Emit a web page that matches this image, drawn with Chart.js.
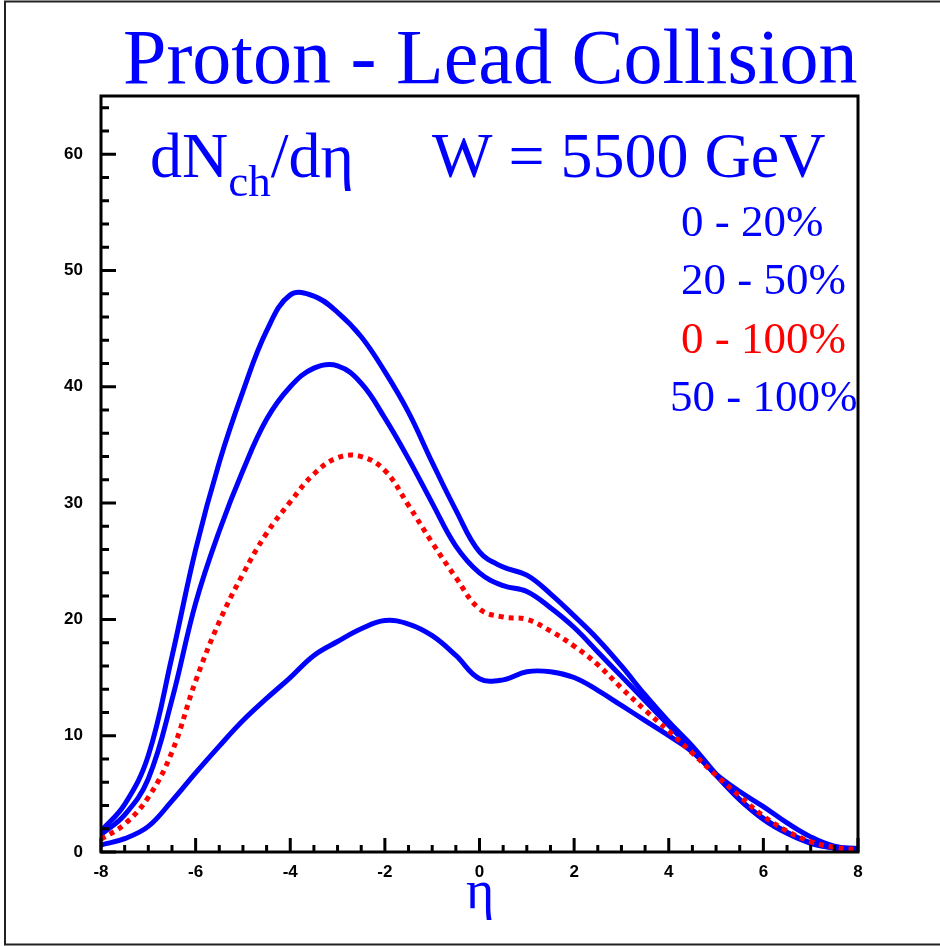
<!DOCTYPE html>
<html>
<head>
<meta charset="utf-8">
<script src="https://cdn.jsdelivr.net/npm/chart.js@4.4.1/dist/chart.umd.min.js"></script>
<style>
  html, body { margin: 0; padding: 0; background: #fff; }
  #wrap { width: 940px; height: 946px; }
</style>
</head>
<body>
<div id="wrap"><canvas id="etaChart" width="940" height="946"></canvas></div>
<script>
// pseudorapidity grid
const eta = [-8, -7.5, -7, -6.5, -6, -5.5, -5, -4.5, -4, -3.5, -3, -2.5, -2, -1.5, -1, -0.5,
  0, 0.5, 1, 1.5, 2, 2.5, 3, 3.5, 4, 4.5, 5, 5.5, 6, 6.5, 7, 7.5, 8];

// dN_ch/deta per centrality class
const cent0to20 = [1.8, 4.1, 8.3, 16.8, 26.0, 33.5, 39.6, 44.8, 47.9, 47.8, 46.4, 44.3, 41.3, 37.8, 33.5, 29.4,
  25.8, 24.5, 23.8, 22.2, 20.3, 18.3, 16.0, 13.5, 11.2, 9.1, 6.7, 4.5, 2.9, 1.7, 0.8, 0.35, 0.25];
const cent20to50 = [1.5, 3.2, 6.3, 13.1, 21.4, 27.6, 32.8, 37.2, 40.0, 41.6, 41.8, 40.3, 37.3, 33.8, 30.0, 26.3,
  24.0, 22.9, 22.4, 21.0, 19.3, 17.2, 15.1, 13.0, 10.9, 8.8, 6.6, 4.5, 2.8, 1.6, 0.75, 0.35, 0.25];
const cent0to100 = [1.1, 2.4, 4.7, 8.6, 14.7, 19.8, 23.9, 27.4, 30.1, 32.5, 33.9, 34.0, 32.8, 29.8, 26.6, 23.6,
  20.9, 20.2, 20.0, 19.0, 17.7, 16.1, 14.1, 12.2, 10.4, 8.5, 6.6, 4.8, 3.1, 1.8, 0.9, 0.4, 0.2];
const cent50to100 = [0.6, 1.15, 2.2, 4.4, 6.8, 9.1, 11.3, 13.2, 15.0, 16.9, 18.1, 19.2, 19.9, 19.6, 18.6, 16.9,
  14.9, 14.8, 15.5, 15.5, 15.0, 13.9, 12.6, 11.3, 10.0, 8.6, 6.7, 5.2, 3.9, 2.5, 1.3, 0.5, 0.3];

const legendLabels = ["0 - 20%", "20 - 50%", "0 - 100%", "50 - 100%"];
const xTickStep = 2, yTickStep = 10;

const BLUE = "#0000ff", RED = "#ff0000";
const serif = '"Liberation Serif", "Times New Roman", serif';

function pts(ys) {
  return eta.map((x, i) => ({ x: x, y: ys[i] }));
}

// inward ticks, plot frame and the text that sits in the picture
const decorPlugin = {
  id: "decor",
  afterDraw(chart) {
    const ctx = chart.ctx;
    const a = chart.chartArea;
    const xs = chart.scales.x, ys = chart.scales.y;
    ctx.save();

    // outer border of the picture
    ctx.strokeStyle = "#222";
    ctx.lineWidth = 2;
    ctx.beginPath();
    ctx.moveTo(960, 1.5); ctx.lineTo(5, 1.5); ctx.lineTo(5, 944.5); ctx.lineTo(960, 944.5);
    ctx.stroke();

    // ticks
    ctx.strokeStyle = "#000";
    ctx.lineWidth = 3;
    ctx.beginPath();
    for (let v = xs.min; v <= xs.max + 1e-9; v += 0.5) {
      const px = xs.getPixelForValue(v);
      const len = Math.abs(v % xTickStep) < 1e-9 ? 14 : 7;
      ctx.moveTo(px, a.bottom);
      ctx.lineTo(px, a.bottom - len);
    }
    for (let v = ys.min; v <= ys.max + 1e-9; v += 2) {
      const py = ys.getPixelForValue(v);
      const len = Math.abs(v % yTickStep) < 1e-9 ? 15 : 8;
      ctx.moveTo(a.left, py);
      ctx.lineTo(a.left + len, py);
    }
    ctx.stroke();
    ctx.strokeRect(a.left, a.top, a.right - a.left, a.bottom - a.top);

    // title
    ctx.fillStyle = BLUE;
    ctx.textAlign = "left";
    ctx.textBaseline = "alphabetic";
    ctx.font = "78px " + serif;
    ctx.fillText("Proton - Lead Collision", 123, 83);

    // dN_ch/deta and energy
    ctx.font = "64px " + serif;
    let x = 150;
    ctx.fillText("dN", x, 177);
    x += ctx.measureText("dN").width;
    ctx.font = "45px " + serif;
    ctx.fillText("ch", x, 196);
    x += ctx.measureText("ch").width;
    ctx.font = "64px " + serif;
    ctx.fillText("/d\u03b7", x, 177);
    ctx.fillText("W = 5500 GeV", 432, 177);

    // legend texts
    ctx.font = "45px " + serif;
    const lx = [681, 681, 681, 670];
    const ly = [236, 294, 353, 411];
    const lc = [BLUE, BLUE, RED, BLUE];
    legendLabels.forEach((t, i) => {
      ctx.fillStyle = lc[i];
      ctx.fillText(t, lx[i], ly[i]);
    });

    // x-axis title
    ctx.fillStyle = BLUE;
    ctx.font = "54px " + serif;
    ctx.textAlign = "center";
    ctx.fillText("\u03b7", 480, 908);
    ctx.restore();
  }
};

const tickFont = { family: '"Liberation Sans", Arial, sans-serif', size: 17, weight: "bold" };

new Chart(document.getElementById("etaChart").getContext("2d"), {
  type: "line",
  data: {
    datasets: [
      { label: legendLabels[2], data: pts(cent0to100), borderColor: RED, borderWidth: 5,
        borderDash: [5, 5], borderCapStyle: "butt", order: 0 },
      { label: legendLabels[0], data: pts(cent0to20), borderColor: BLUE, borderWidth: 5, order: 1 },
      { label: legendLabels[1], data: pts(cent20to50), borderColor: BLUE, borderWidth: 5, order: 1 },
      { label: legendLabels[3], data: pts(cent50to100), borderColor: BLUE, borderWidth: 5, order: 1 }
    ]
  },
  options: {
    responsive: false,
    devicePixelRatio: 1,
    animation: false,
    layout: { padding: { top: 96, right: 82, left: 0, bottom: 0 } },
    elements: {
      point: { radius: 0 },
      line: { tension: 0.4, fill: false, borderJoinStyle: "round" }
    },
    plugins: { legend: { display: false }, tooltip: { enabled: false } },
    scales: {
      x: {
        type: "linear",
        min: -8, max: 8,
        grid: { display: false, drawTicks: false },
        border: { display: false },
        ticks: { stepSize: xTickStep, font: tickFont, color: "#000", padding: 10, maxRotation: 0 },
        afterFit(scale) { scale.height = 94; }
      },
      y: {
        type: "linear",
        min: 0, max: 65,
        grid: { display: false, drawTicks: false },
        border: { display: false },
        ticks: { stepSize: yTickStep, font: tickFont, color: "#000", padding: 18 },
        afterBuildTicks(scale) {
          scale.ticks = scale.ticks.filter(t => t.value % yTickStep === 0);
        },
        afterFit(scale) { scale.width = 101; }
      }
    }
  },
  plugins: [decorPlugin]
});
</script>
</body>
</html>
